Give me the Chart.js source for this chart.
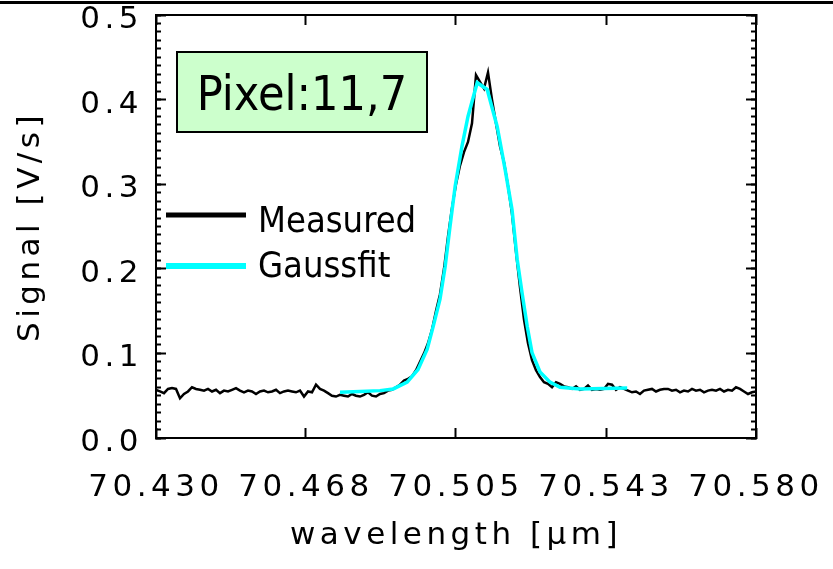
<!DOCTYPE html>
<html><head><meta charset="utf-8">
<script src="https://cdn.jsdelivr.net/npm/chart.js@4.4.1/dist/chart.umd.min.js"></script>
<style>html,body{margin:0;padding:0;background:#fff;}canvas{display:block;}</style>
</head><body>
<canvas id="c" width="833" height="569"></canvas>
<script>
// ---- data ----
const measuredStart = 70.430;
const measuredStep = 0.001;
const measuredSignal = [
 0.057,0.055,0.053,0.058,0.059,0.058,0.047,0.052,0.055,0.060,
 0.058,0.057,0.056,0.058,0.055,0.057,0.053,0.056,0.055,0.057,
 0.059,0.056,0.054,0.056,0.055,0.052,0.055,0.056,0.054,0.055,
 0.057,0.053,0.055,0.056,0.055,0.054,0.056,0.049,0.055,0.054,
 0.063,0.058,0.056,0.053,0.050,0.049,0.051,0.050,0.049,0.052,
 0.050,0.049,0.051,0.054,0.050,0.049,0.052,0.053,0.056,0.057,
 0.060,0.063,0.068,0.070,0.073,0.080,0.090,0.100,0.112,0.128,
 0.150,0.170,0.200,0.238,0.272,0.300,0.322,0.338,0.350,0.372,
 0.429,0.421,0.413,0.432,0.400,0.372,0.345,0.326,0.298,0.265,
 0.220,0.178,0.140,0.112,0.092,0.080,0.072,0.066,0.064,0.060,
 0.066,0.064,0.061,0.060,0.058,0.061,0.057,0.058,0.062,0.057,
 0.058,0.057,0.058,0.064,0.063,0.057,0.060,0.058,0.056,0.054,
 0.055,0.052,0.056,0.057,0.058,0.055,0.057,0.058,0.058,0.056,
 0.057,0.054,0.056,0.055,0.058,0.056,0.057,0.054,0.056,0.057,
 0.056,0.058,0.055,0.057,0.056,0.060,0.058,0.055,0.052,0.054,
 0.055
];
const gaussWavelength = [70.4760,70.4810,70.4860,70.4893,70.4928,70.4955,70.4978,70.4993,70.5010,70.5023,
 70.5035,70.5048,70.5065,70.5080,70.5103,70.5128,70.5153,70.5173,70.5190,70.5203,
 70.5215,70.5228,70.5240,70.5260,70.5285,70.5310,70.5360,70.5478];
const gaussSignal = [0.054,0.055,0.056,0.058,0.066,0.081,0.105,0.132,0.164,0.203,
 0.250,0.298,0.345,0.380,0.420,0.412,0.368,0.317,0.270,0.211,
 0.172,0.132,0.101,0.078,0.066,0.060,0.058,0.059];
const xTickValues = [70.430, 70.4675, 70.505, 70.5425, 70.580];
const xTickLabels = ['70.430','70.468','70.505','70.543','70.580'];
const yMajorStep = 0.1;
const yMinorStep = 0.01;
const seriesLabels = ['Measured', 'Gaussfit'];
const seriesColors = ['#000000', '#00ffff'];
const annotationText = 'Pixel:11,7';
const xTitle = 'wavelength [\u03bcm]';
const yTitle = 'Signal [V/s]';

// ---- build ----
const measuredPoints = measuredSignal.map((v, i) => ({x: +(measuredStart + i * measuredStep).toFixed(4), y: v}));
const gaussPoints = gaussWavelength.map((w, i) => ({x: w, y: gaussSignal[i]}));

const axisFont = {family: "'DejaVu Sans', sans-serif", size: 31, weight: 400};
const borderCfg = {display: true, color: '#000', width: 2};
const majorGrid = {drawOnChartArea: false, drawTicks: true, tickLength: -10, tickWidth: 2, tickColor: '#000'};
const minorGrid = {drawOnChartArea: false, drawTicks: true, tickLength: -5, tickWidth: 2, tickColor: '#000'};
const setXTicks = s => { s.ticks = xTickValues.map(v => ({value: v})); };
const noPad = s => { s.paddingTop = 0; s.paddingBottom = 0; s.paddingLeft = 0; s.paddingRight = 0; };

const decor = {
  id: 'decor',
  beforeDraw(chart) { chart.ctx.letterSpacing = '4.5px'; },
  beforeDatasetsDraw(chart) { chart.ctx.letterSpacing = '0px'; },
  afterDraw(chart) {
    const ctx = chart.ctx;
    ctx.save();
    ctx.letterSpacing = '0px';
    // top rule
    ctx.fillStyle = '#000';
    ctx.fillRect(0, 1, chart.width, 3);
    // annotation box
    ctx.fillStyle = '#ccffcc';
    ctx.fillRect(177, 52, 250, 80);
    ctx.lineWidth = 2;
    ctx.strokeStyle = '#000';
    ctx.strokeRect(177, 52, 250, 80);
    ctx.fillStyle = '#000';
    ctx.font = "48px 'DejaVu Sans Condensed', 'DejaVu Sans', sans-serif";
    ctx.textAlign = 'center';
    ctx.textBaseline = 'alphabetic';
    ctx.fillText(annotationText, 302, 110);
    // legend
    const lineY = [215, 266];
    const textY = [232, 277];
    ctx.font = "36px 'DejaVu Sans Condensed', 'DejaVu Sans', sans-serif";
    ctx.textAlign = 'left';
    chart.data.datasets.forEach((ds, i) => {
      ctx.strokeStyle = ds.borderColor;
      ctx.lineWidth = 5 + i;
      ctx.beginPath();
      ctx.moveTo(166, lineY[i]);
      ctx.lineTo(246, lineY[i]);
      ctx.stroke();
      ctx.fillStyle = '#000';
      ctx.fillText(ds.label, 258, textY[i]);
    });
    ctx.restore();
  }
};

new Chart(document.getElementById('c'), {
  type: 'scatter',
  data: {
    datasets: [
      {label: seriesLabels[0], data: measuredPoints, showLine: true, borderColor: seriesColors[0], borderWidth: 2.5, pointRadius: 0, tension: 0, order: 2},
      {label: seriesLabels[1], data: gaussPoints, showLine: true, borderColor: seriesColors[1], borderWidth: 3.5, pointRadius: 0, tension: 0, order: 1}
    ]
  },
  options: {
    responsive: false, animation: false, devicePixelRatio: 1, events: [],
    layout: {padding: {left: 0, top: 15, right: 77, bottom: 0}},
    plugins: {legend: {display: false}, tooltip: {enabled: false}},
    scales: {
      x: {
        type: 'linear', position: 'bottom', min: 70.43, max: 70.58, weight: 1,
        afterBuildTicks: setXTicks,
        afterFit: s => { s.height = 131; noPad(s); },
        ticks: {autoSkip: false, maxRotation: 0, padding: 41, color: '#000', font: axisFont,
                callback: (v, i) => xTickLabels[i]},
        grid: majorGrid, border: borderCfg,
        title: {display: true, text: xTitle, color: '#000', font: axisFont, padding: {top: 0, bottom: 14}}
      },
      xTop: {
        type: 'linear', position: 'top', min: 70.43, max: 70.58, weight: 1,
        afterBuildTicks: setXTicks,
        afterFit: s => { s.height = 0; noPad(s); },
        ticks: {display: false}, grid: majorGrid, border: borderCfg
      },
      y: {
        type: 'linear', position: 'left', min: 0, max: 0.5, weight: 1,
        afterFit: s => { s.width = 156; noPad(s); },
        ticks: {stepSize: yMajorStep, padding: 23, labelOffset: 5, color: '#000', font: axisFont,
                callback: v => v.toFixed(1)},
        grid: majorGrid, border: borderCfg,
        title: {display: true, text: yTitle, color: '#000', font: axisFont, padding: {top: 12, bottom: 0}}
      },
      yMinor: {
        type: 'linear', position: 'left', min: 0, max: 0.5, weight: 0,
        afterFit: s => { s.width = 0; noPad(s); },
        ticks: {display: false, stepSize: yMinorStep, maxTicksLimit: 100},
        grid: minorGrid, border: {display: false}
      },
      yRight: {
        type: 'linear', position: 'right', min: 0, max: 0.5, weight: 1,
        afterFit: s => { s.width = 0; noPad(s); },
        ticks: {display: false, stepSize: yMajorStep},
        grid: majorGrid, border: borderCfg
      },
      yRightMinor: {
        type: 'linear', position: 'right', min: 0, max: 0.5, weight: 0,
        afterFit: s => { s.width = 0; noPad(s); },
        ticks: {display: false, stepSize: yMinorStep, maxTicksLimit: 100},
        grid: minorGrid, border: {display: false}
      }
    }
  },
  plugins: [decor]
});
</script>
</body></html>
